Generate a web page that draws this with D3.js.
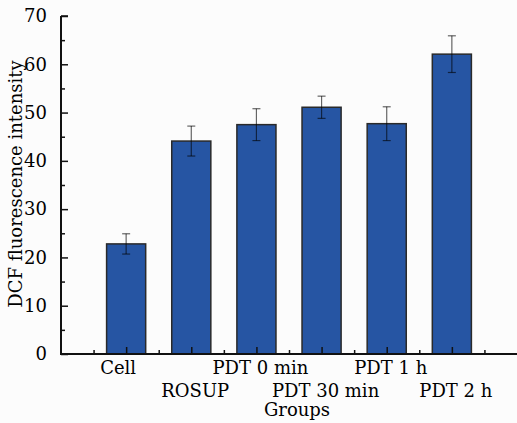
<!DOCTYPE html>
<html><head><meta charset="utf-8">
<script src="https://cdn.jsdelivr.net/npm/d3@7"></script>
<style>body{margin:0;background:#fcfcfc;}svg{display:block;}</style>
</head><body>
<script>
const categories = ["Cell","ROSUP","PDT 0 min","PDT 30 min","PDT 1 h","PDT 2 h"];
const values = [22.8, 44.1, 47.5, 51.1, 47.7, 62.1];
const errors = [2.1, 3.1, 3.3, 2.3, 3.5, 3.8];
const yTicks = [0,10,20,30,40,50,60,70];
const yMinor = [5,15,25,35,45,55,65];

const W = 517, H = 423;
const svg = d3.select("body").append("svg").attr("width", W).attr("height", H);
const font = "'DejaVu Serif', serif";
const x0 = 61, x1 = 517, yTop = 16, yBot = 354;

const x = d3.scaleLinear().domain([0, categories.length + 1]).range([x0, x1]);
const y = d3.scaleLinear().domain([0, 70]).range([yBot, yTop]);
const step = x(1) - x(0);
const bw = step * 0.6;

// bars
svg.append("g").selectAll("rect").data(values).join("rect")
  .attr("x", (d,i) => x(i+1) - bw/2)
  .attr("y", d => y(d))
  .attr("width", bw)
  .attr("height", d => y(0) - y(d))
  .attr("fill", "#2655a3")
  .attr("stroke", "#2a2a2a")
  .attr("stroke-width", 1.5);

// error bars
const eg = svg.append("g").attr("stroke", "#000").attr("stroke-opacity", 0.6).attr("stroke-width", 1.2);
values.forEach((v,i) => {
  const cx = x(i+1), e = errors[i];
  eg.append("line").attr("x1", cx).attr("x2", cx).attr("y1", y(v+e)).attr("y2", y(v-e));
  eg.append("line").attr("x1", cx-4).attr("x2", cx+4).attr("y1", y(v+e)).attr("y2", y(v+e));
  eg.append("line").attr("x1", cx-4).attr("x2", cx+4).attr("y1", y(v-e)).attr("y2", y(v-e));
});

// y axis
const ya = svg.append("g").attr("transform", `translate(${x0},0)`)
  .call(d3.axisLeft(y).tickValues(yTicks).tickSize(-7).tickPadding(14).tickFormat(d3.format("d")));
ya.select(".domain").remove();
ya.selectAll(".tick line").attr("stroke", "#111").attr("stroke-width", 1.5);
ya.selectAll("text").attr("font-family", font).attr("font-size", 18).attr("fill", "#000");
const ym = svg.append("g").attr("transform", `translate(${x0},0)`)
  .call(d3.axisLeft(y).tickValues(yMinor).tickSize(-4).tickFormat(""));
ym.select(".domain").remove();
ym.selectAll(".tick line").attr("stroke", "#111").attr("stroke-width", 1.5);
svg.append("line").attr("x1", x0).attr("x2", x0).attr("y1", y(70)).attr("y2", y(0)+0.75)
  .attr("stroke", "#111").attr("stroke-width", 2);
svg.append("line").attr("x1", x0).attr("x2", x0+7).attr("y1", y(70)).attr("y2", y(70))
  .attr("stroke", "#111").attr("stroke-width", 1.5);

// x axis
const xa = svg.append("g").attr("transform", `translate(0,${yBot})`)
  .call(d3.axisBottom(x).tickValues(d3.range(1, categories.length+1)).tickSize(-7).tickFormat(""));
xa.select(".domain").remove();
xa.selectAll(".tick line").attr("stroke", "#111").attr("stroke-width", 1.5);
const xm = svg.append("g").attr("transform", `translate(0,${yBot})`)
  .call(d3.axisBottom(x).tickValues(d3.range(0.5, categories.length+1, 1)).tickSize(-4).tickFormat(""));
xm.select(".domain").remove();
xm.selectAll(".tick line").attr("stroke", "#111").attr("stroke-width", 1.5);
svg.append("line").attr("x1", x0-1).attr("x2", x1).attr("y1", yBot).attr("y2", yBot)
  .attr("stroke", "#111").attr("stroke-width", 2);

// category labels, staggered
svg.append("g").selectAll("text").data(categories).join("text")
  .attr("x", (d,i) => x(i+1) + (i === 0 ? -8 : 4))
  .attr("y", (d,i) => i % 2 === 0 ? 374 : 397)
  .attr("text-anchor", "middle")
  .attr("font-family", font).attr("font-size", 18).attr("fill", "#000")
  .text(d => d);

svg.append("text").attr("x", 297).attr("y", 416).attr("text-anchor", "middle")
  .attr("font-family", font).attr("font-size", 18).attr("fill", "#000").text("Groups");

svg.append("text").attr("transform", `translate(22,184) rotate(-90)`).attr("text-anchor", "middle")
  .attr("font-family", font).attr("font-size", 18).attr("fill", "#000").text("DCF fluorescence intensity");
</script>
</body></html>
